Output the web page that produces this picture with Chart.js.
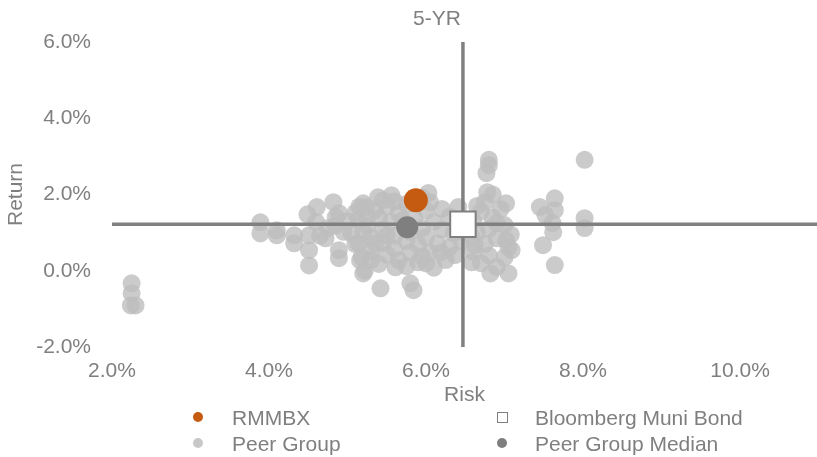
<!DOCTYPE html>
<html><head><meta charset="utf-8">
<script src="https://cdn.jsdelivr.net/npm/chart.js@4.4.1/dist/chart.umd.min.js"></script>
<style>
html,body{margin:0;padding:0;background:#fff;}
#wrap{position:relative;width:817px;height:457px;overflow:hidden;font-family:"Liberation Sans",Arial,sans-serif;}
canvas{display:block;}
.lg{position:absolute;color:#7f7f7f;font-size:21px;line-height:21px;white-space:nowrap;}
.mk{position:absolute;box-sizing:border-box;}
</style></head><body>
<div id="wrap"><canvas id="c" width="817" height="457" style="width:817px;height:457px"></canvas><div id="legend"></div></div>
<script>
const chartTitle = '5-YR';
const xAxisTitle = 'Risk';
const yAxisTitle = 'Return';
const seriesNames = ['RMMBX', 'Bloomberg Muni Bond', 'Peer Group', 'Peer Group Median'];
const xRange = [2, 10.98];
const yRange = [-2, 6];
const tickStep = 2;

const fundRisk = [5.87];
const fundReturn = [1.85];
const benchRisk = [6.47];
const benchReturn = [1.22];
const medianRisk = [5.76];
const medianReturn = [1.14];

const peerRisk = [
 2.25,2.25,2.24,2.30,3.89,3.89,4.10,4.10,4.32,4.32,
 4.51,4.51,4.51,4.49,4.61,4.82,4.72,4.85,4.85,4.89,
 4.89,4.89,5.14,5.14,5.16,5.20,5.24,5.20,5.39,5.56,
 6.03,6.41,5.42,5.80,5.84,5.18,5.22,5.61,6.00,6.19,
 6.37,6.62,6.80,6.80,6.77,8.02,6.78,7.02,7.45,7.64,
 7.64,7.52,7.62,7.49,7.64,8.02,8.02,6.82,7.05,7.02,
 7.09,6.58,7.61,
 5.00,5.05,5.10,5.10,5.25,5.30,5.30,5.30,5.35,5.40,
 5.45,5.45,5.50,5.50,5.55,5.60,5.60,5.65,5.65,5.70,
 5.75,5.80,5.80,5.85,5.90,5.90,5.95,6.00,6.00,6.05,
 6.10,6.15,6.20,6.25,6.30,6.30,6.35,6.45,5.20,5.40,
 5.60,5.75,5.25,5.95,6.10,5.75,5.50,6.20,5.35,4.95,
 4.75,4.65,4.60,5.15,5.45,6.05,5.95,
 6.60,6.65,6.70,6.75,6.80,6.80,6.85,6.90,6.95,7.00,
 6.70,6.60,6.90,7.05,6.75,6.85,7.00,6.65,6.90,6.58,
 7.08
];
const peerReturn = [
 -0.33,-0.59,-0.91,-0.91,1.27,0.98,1.06,0.93,0.93,0.72,
 0.93,0.54,0.14,1.48,1.67,1.80,0.85,1.41,1.19,0.54,
 0.33,1.51,1.33,0.72,0.27,-0.07,1.67,1.77,1.93,1.98,
 2.04,1.67,-0.46,-0.33,-0.51,0.36,0.00,0.09,0.19,0.48,
 0.41,0.67,2.91,2.77,2.56,2.91,2.06,1.77,1.67,1.90,
 1.59,1.46,1.01,0.67,0.15,1.38,1.12,-0.07,-0.07,0.80,
 0.54,0.22,1.25,
 1.30,0.98,0.70,1.52,1.18,0.88,0.52,0.28,1.58,1.38,
 1.08,0.72,0.42,1.68,1.28,0.92,0.58,0.28,1.52,1.32,
 0.78,0.48,1.02,1.38,0.22,0.68,1.12,1.58,0.88,0.48,
 1.28,0.72,1.08,0.28,1.42,0.62,0.98,0.78,1.02,0.18,
 1.82,1.75,1.40,0.38,0.08,0.12,0.92,1.62,0.72,1.02,
 1.12,0.92,1.28,1.68,1.85,1.80,1.92,
 1.30,1.00,1.55,0.70,1.10,0.40,1.40,0.85,1.62,1.20,
 0.20,0.50,0.10,0.62,1.80,2.00,0.35,1.70,1.25,0.90,
 0.95
];

const FONT = '"Liberation Sans", Arial, sans-serif';
const TEXT = '#7f7f7f';
const COLORS = {fund:'#c55a11', bench:'#7f7f7f', peer:'rgba(190,190,190,0.8)', median:'#7f7f7f', line:'#808080'};

const zip = (xs, ys) => xs.map((x, i) => ({x, y: ys[i]}));

Chart.defaults.font.family = FONT;
Chart.defaults.font.size = 21;
Chart.defaults.color = TEXT;

const titlePlugin = {
  id: 'titleText',
  afterDraw(chart) {
    const c = chart.ctx;
    c.save();
    c.font = '21px ' + FONT;
    c.fillStyle = TEXT;
    c.textAlign = 'center';
    c.textBaseline = 'middle';
    c.fillText(chartTitle, 437, 19);
    c.restore();
  }
};

new Chart(document.getElementById('c'), {
  type: 'scatter',
  data: {
    datasets: [
      {label: seriesNames[1], data: zip(benchRisk, benchReturn), pointStyle: 'rect', pointRadius: 18,
       backgroundColor: '#ffffff', borderColor: COLORS.bench, borderWidth: 2, order: 0},
      {label: seriesNames[0], data: zip(fundRisk, fundReturn), pointRadius: 12,
       backgroundColor: COLORS.fund, borderWidth: 0, order: 1},
      {label: seriesNames[3], data: zip(medianRisk, medianReturn), pointRadius: 11,
       backgroundColor: COLORS.median, borderWidth: 0, order: 2},
      {label: 'h', data: [{x: xRange[0], y: benchReturn[0]}, {x: xRange[1], y: benchReturn[0]}],
       showLine: true, pointRadius: 0, borderColor: COLORS.line, borderWidth: 3.5, order: 3},
      {label: 'v', data: [{x: benchRisk[0], y: yRange[0]}, {x: benchRisk[0], y: yRange[1]}],
       showLine: true, pointRadius: 0, borderColor: COLORS.line, borderWidth: 3.5, order: 4},
      {label: seriesNames[2], data: zip(peerRisk, peerReturn), pointRadius: 9,
       backgroundColor: COLORS.peer, borderWidth: 0, order: 5}
    ]
  },
  options: {
    responsive: false,
    animation: false,
    events: [],
    layout: {autoPadding: false, padding: {top: 42, right: 0, bottom: 51.5, left: 0}},
    plugins: {legend: {display: false}, tooltip: {enabled: false}, title: {display: false}},
    scales: {
      x: {
        type: 'linear', min: xRange[0], max: xRange[1],
        grid: {display: false, drawTicks: false}, border: {display: false},
        ticks: {stepSize: tickStep, includeBounds: false, padding: 13.5, color: TEXT,
                font: {size: 21, lineHeight: 1}, maxRotation: 0,
                callback: v => v.toFixed(1) + '%'},
        title: {display: true, text: xAxisTitle, color: TEXT, font: {size: 21, lineHeight: 1}, padding: 0},
        afterFit: s => { s.height = 58.5; s.paddingRight = 0; s.paddingLeft = 0; }
      },
      y: {
        type: 'linear', min: yRange[0], max: yRange[1],
        grid: {display: false, drawTicks: false}, border: {display: false},
        ticks: {stepSize: tickStep, padding: 21, color: TEXT, font: {size: 21, lineHeight: 1},
                callback: v => v.toFixed(1) + '%'},
        title: {display: true, text: yAxisTitle, color: TEXT, font: {size: 21, lineHeight: 1}, padding: {top: 5.5, bottom: 0}},
        afterFit: s => { s.width = 112; s.paddingTop = 0; s.paddingBottom = 0; }
      }
    }
  },
  plugins: [titlePlugin]
});

// HTML legend in two columns
const legendItems = [
  {name: seriesNames[0], col: 0, row: 0, kind: 'dot', color: COLORS.fund},
  {name: seriesNames[1], col: 1, row: 0, kind: 'square', color: COLORS.bench},
  {name: seriesNames[2], col: 0, row: 1, kind: 'dot', color: '#c8c8c8'},
  {name: seriesNames[3], col: 1, row: 1, kind: 'dot', color: COLORS.median}
];
const colMarker = [198, 502], colText = [232, 535], rowCenter = [417, 443];
const lg = document.getElementById('legend');
legendItems.forEach(it => {
  const m = document.createElement('div');
  m.className = 'mk';
  const s = it.kind === 'square' ? 11 : 10;
  m.style.width = s + 'px'; m.style.height = s + 'px';
  m.style.left = (colMarker[it.col] - s / 2) + 'px';
  m.style.top = (rowCenter[it.row] - s / 2) + 'px';
  if (it.kind === 'square') { m.style.border = '1.5px solid ' + it.color; m.style.background = '#fff'; }
  else { m.style.borderRadius = '50%'; m.style.background = it.color; }
  lg.appendChild(m);
  const t = document.createElement('div');
  t.className = 'lg';
  t.textContent = it.name;
  t.style.left = colText[it.col] + 'px';
  t.style.top = (rowCenter[it.row] - 10.25) + 'px';
  lg.appendChild(t);
});
</script>
</body></html>
